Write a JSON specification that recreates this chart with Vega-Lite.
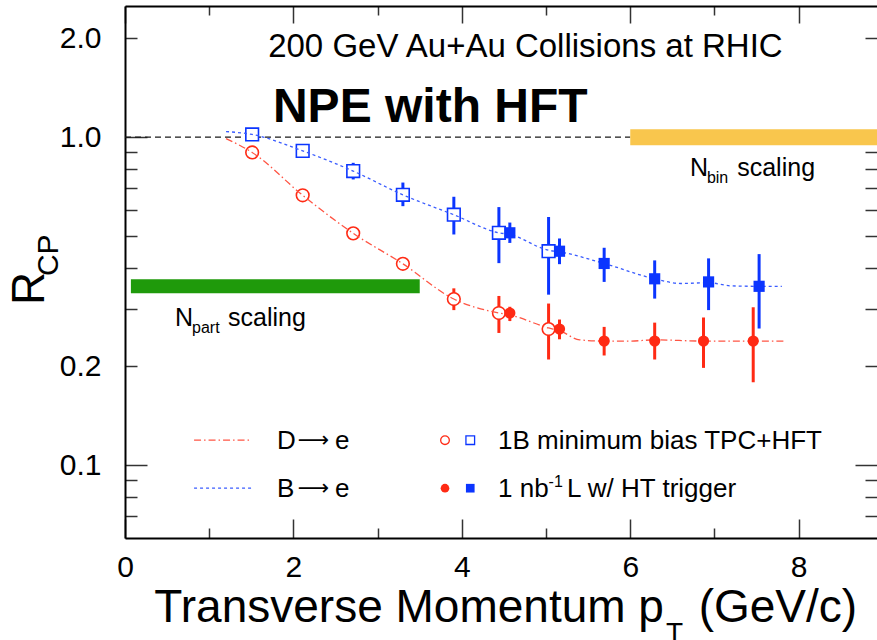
{
  "$schema": "https://vega.github.io/schema/vega-lite/v6.json",
  "width": 752,
  "height": 532,
  "autosize": {"type": "none"},
  "padding": {"left": 125, "top": 6, "right": 0, "bottom": 102},
  "background": "white",
  "config": {"view": {"stroke": null}, "font": "Liberation Sans"},
  "resolve": {"axis": {"x": "independent", "y": "independent"}},
  "datasets": {
    "points": [
      {"pt": 1.51, "v": 0.898, "lo": 0.886, "hi": 0.910, "decay": "D", "run": "MB"},
      {"pt": 2.11, "v": 0.665, "lo": 0.656, "hi": 0.674, "decay": "D", "run": "MB"},
      {"pt": 2.71, "v": 0.509, "lo": 0.501, "hi": 0.517, "decay": "D", "run": "MB"},
      {"pt": 3.30, "v": 0.411, "lo": 0.398, "hi": 0.425, "decay": "D", "run": "MB"},
      {"pt": 3.905, "v": 0.321, "lo": 0.297, "hi": 0.346, "decay": "D", "run": "MB"},
      {"pt": 4.44, "v": 0.291, "lo": 0.253, "hi": 0.328, "decay": "D", "run": "MB"},
      {"pt": 5.03, "v": 0.260, "lo": 0.210, "hi": 0.311, "decay": "D", "run": "MB"},
      {"pt": 4.57, "v": 0.291, "lo": 0.275, "hi": 0.304, "decay": "D", "run": "HT"},
      {"pt": 5.16, "v": 0.260, "lo": 0.242, "hi": 0.278, "decay": "D", "run": "HT"},
      {"pt": 5.69, "v": 0.239, "lo": 0.216, "hi": 0.264, "decay": "D", "run": "HT"},
      {"pt": 6.29, "v": 0.239, "lo": 0.210, "hi": 0.272, "decay": "D", "run": "HT"},
      {"pt": 6.87, "v": 0.239, "lo": 0.198, "hi": 0.282, "decay": "D", "run": "HT"},
      {"pt": 7.46, "v": 0.239, "lo": 0.179, "hi": 0.303, "decay": "D", "run": "HT"},
      {"pt": 1.51, "v": 1.019, "lo": 1.005, "hi": 1.033, "decay": "B", "run": "MB"},
      {"pt": 2.11, "v": 0.908, "lo": 0.875, "hi": 0.945, "decay": "B", "run": "MB"},
      {"pt": 2.71, "v": 0.788, "lo": 0.743, "hi": 0.835, "decay": "B", "run": "MB"},
      {"pt": 3.30, "v": 0.667, "lo": 0.616, "hi": 0.727, "decay": "B", "run": "MB"},
      {"pt": 3.905, "v": 0.580, "lo": 0.505, "hi": 0.658, "decay": "B", "run": "MB"},
      {"pt": 4.44, "v": 0.511, "lo": 0.413, "hi": 0.612, "decay": "B", "run": "MB"},
      {"pt": 5.03, "v": 0.449, "lo": 0.331, "hi": 0.571, "decay": "B", "run": "MB"},
      {"pt": 4.57, "v": 0.511, "lo": 0.476, "hi": 0.549, "decay": "B", "run": "HT"},
      {"pt": 5.16, "v": 0.449, "lo": 0.410, "hi": 0.491, "decay": "B", "run": "HT"},
      {"pt": 5.69, "v": 0.412, "lo": 0.362, "hi": 0.460, "decay": "B", "run": "HT"},
      {"pt": 6.29, "v": 0.370, "lo": 0.322, "hi": 0.421, "decay": "B", "run": "HT"},
      {"pt": 6.93, "v": 0.362, "lo": 0.297, "hi": 0.427, "decay": "B", "run": "HT"},
      {"pt": 7.53, "v": 0.351, "lo": 0.261, "hi": 0.440, "decay": "B", "run": "HT"}
    ],
    "curves": [
      {"pt": 1.20, "v": 0.990, "decay": "D"},
      {"pt": 1.51, "v": 0.898, "decay": "D"},
      {"pt": 2.11, "v": 0.665, "decay": "D"},
      {"pt": 2.71, "v": 0.509, "decay": "D"},
      {"pt": 3.30, "v": 0.411, "decay": "D"},
      {"pt": 3.905, "v": 0.321, "decay": "D"},
      {"pt": 4.44, "v": 0.291, "decay": "D"},
      {"pt": 4.57, "v": 0.287, "decay": "D"},
      {"pt": 5.03, "v": 0.262, "decay": "D"},
      {"pt": 5.16, "v": 0.257, "decay": "D"},
      {"pt": 5.40, "v": 0.241, "decay": "D"},
      {"pt": 5.69, "v": 0.239, "decay": "D"},
      {"pt": 6.00, "v": 0.239, "decay": "D"},
      {"pt": 6.29, "v": 0.241, "decay": "D"},
      {"pt": 6.87, "v": 0.239, "decay": "D"},
      {"pt": 7.46, "v": 0.239, "decay": "D"},
      {"pt": 7.85, "v": 0.239, "decay": "D"},
      {"pt": 1.20, "v": 1.040, "decay": "B"},
      {"pt": 1.51, "v": 1.019, "decay": "B"},
      {"pt": 2.11, "v": 0.908, "decay": "B"},
      {"pt": 2.71, "v": 0.788, "decay": "B"},
      {"pt": 3.30, "v": 0.667, "decay": "B"},
      {"pt": 3.905, "v": 0.580, "decay": "B"},
      {"pt": 4.44, "v": 0.511, "decay": "B"},
      {"pt": 4.57, "v": 0.505, "decay": "B"},
      {"pt": 5.03, "v": 0.452, "decay": "B"},
      {"pt": 5.16, "v": 0.447, "decay": "B"},
      {"pt": 5.69, "v": 0.412, "decay": "B"},
      {"pt": 6.29, "v": 0.370, "decay": "B"},
      {"pt": 6.60, "v": 0.358, "decay": "B"},
      {"pt": 6.93, "v": 0.360, "decay": "B"},
      {"pt": 7.20, "v": 0.352, "decay": "B"},
      {"pt": 7.53, "v": 0.351, "decay": "B"},
      {"pt": 7.80, "v": 0.351, "decay": "B"}
    ]
  },
  "layer": [
    {
      "data": {"values": [{}]},
      "mark": {"type": "rule", "stroke": "#1a1a1a", "strokeWidth": 1.2, "strokeDash": [6, 4]},
      "encoding": {
        "x": {"datum": 0, "type": "quantitative", "scale": {"type": "linear", "domain": [0, 8.93], "nice": false, "zero": false},
          "axis": {"orient": "bottom", "title": null, "values": [0, 1, 2, 3, 4, 5, 6, 7, 8], "format": "d",
            "labelExpr": "datum.value % 2 === 0 ? datum.label : ''",
            "tickSize": {"condition": {"test": "datum.value % 2 === 0", "value": -19}, "value": -10},
            "labelPadding": 33, "tickColor": "#333333", "tickWidth": 1.5, "domainColor": "#000000", "domainWidth": 2,
            "labelFont": "Liberation Sans", "labelFontSize": 30, "labelColor": "#000000", "labelFlush": false, "labelOverlap": false, "grid": false}},
        "x2": {"datum": 6},
        "y": {"datum": 1, "type": "quantitative", "scale": {"type": "log", "domain": [0.06, 2.51], "nice": false},
          "axis": {"orient": "left", "title": null, "values": [0.07, 0.08, 0.09, 0.1, 0.2, 0.3, 0.4, 0.5, 0.6, 0.7, 0.8, 0.9, 1, 2],
            "labelExpr": "(datum.value == 0.1 || datum.value == 0.2 || datum.value == 1 || datum.value == 2) ? format(datum.value, '.1f') : ''",
            "tickSize": {"condition": {"test": "datum.value == 0.1 || datum.value == 1", "value": -22}, "value": -12},
            "labelPadding": {"condition": {"test": "datum.value == 0.1 || datum.value == 1", "value": 46}, "value": 36},
            "tickColor": "#333333", "tickWidth": 1.5, "domainColor": "#000000", "domainWidth": 2,
            "labelFont": "Liberation Sans", "labelFontSize": 30, "labelColor": "#000000", "labelOverlap": false, "grid": false}}
      }
    },
    {
      "data": {"values": [{}]},
      "mark": {"type": "rule", "stroke": "#f9c64d", "strokeWidth": 16, "strokeCap": "butt"},
      "encoding": {
        "x": {"datum": 6, "type": "quantitative", "scale": {"type": "linear", "domain": [0, 8.93], "nice": false, "zero": false},
          "axis": {"orient": "top", "title": null, "values": [0, 1, 2, 3, 4, 5, 6, 7, 8], "labels": false,
            "tickSize": {"condition": {"test": "datum.value % 2 === 0", "value": -17}, "value": -9},
            "tickColor": "#333333", "tickWidth": 1.5, "domainColor": "#000000", "domainWidth": 2, "grid": false}},
        "x2": {"datum": 8.93},
        "y": {"datum": 1, "type": "quantitative", "scale": {"type": "log", "domain": [0.06, 2.51], "nice": false},
          "axis": {"orient": "right", "title": null, "values": [0.07, 0.08, 0.09, 0.1, 0.2, 0.3, 0.4, 0.5, 0.6, 0.7, 0.8, 0.9, 1, 2], "labels": false, "domain": false,
            "tickSize": {"condition": {"test": "datum.value == 0.1 || datum.value == 1", "value": -22}, "value": -12},
            "tickColor": "#333333", "tickWidth": 1.5, "grid": false}}
      }
    },
    {
      "data": {"values": [{}]},
      "mark": {"type": "rule", "stroke": "#1f9a0b", "strokeWidth": 14, "strokeCap": "butt"},
      "encoding": {
        "x": {"datum": 0.07, "type": "quantitative", "scale": {"type": "linear", "domain": [0, 8.93], "nice": false, "zero": false}, "axis": null},
        "x2": {"datum": 3.5},
        "y": {"datum": 0.351, "type": "quantitative", "scale": {"type": "log", "domain": [0.06, 2.51], "nice": false}, "axis": null}
      }
    },
    {
      "data": {"name": "points"},
      "mark": {"type": "rule", "strokeWidth": 3},
      "encoding": {
        "x": {"field": "pt", "type": "quantitative", "scale": {"type": "linear", "domain": [0, 8.93], "nice": false, "zero": false}, "axis": null},
        "y": {"field": "lo", "type": "quantitative", "scale": {"type": "log", "domain": [0.06, 2.51], "nice": false}, "axis": null},
        "y2": {"field": "hi"},
        "stroke": {"field": "decay", "type": "nominal", "scale": {"domain": ["D", "B"], "range": ["#ff2a14", "#0b35ff"]}, "legend": null}
      }
    },
    {
      "data": {"name": "points"},
      "transform": [{"filter": "datum.run === 'MB'"}],
      "mark": {"type": "point", "filled": true, "fill": "white", "fillOpacity": 1, "strokeWidth": 1.6, "size": 160, "opacity": 1},
      "encoding": {
        "x": {"field": "pt", "type": "quantitative", "scale": {"type": "linear", "domain": [0, 8.93], "nice": false, "zero": false}, "axis": null},
        "y": {"field": "v", "type": "quantitative", "scale": {"type": "log", "domain": [0.06, 2.51], "nice": false}, "axis": null},
        "stroke": {"field": "decay", "type": "nominal", "scale": {"domain": ["D", "B"], "range": ["#ff2a14", "#0b35ff"]}, "legend": null},
        "shape": {"field": "decay", "type": "nominal", "scale": {"domain": ["D", "B"], "range": ["circle", "square"]}, "legend": null}
      }
    },
    {
      "data": {"name": "curves"},
      "transform": [{"filter": "datum.decay === 'D'"}],
      "mark": {"type": "line", "interpolate": "monotone", "stroke": "#ff5544", "strokeWidth": 1.3, "strokeDash": [7, 3, 1.5, 3]},
      "encoding": {
        "x": {"field": "pt", "type": "quantitative", "scale": {"type": "linear", "domain": [0, 8.93], "nice": false, "zero": false}, "axis": null},
        "y": {"field": "v", "type": "quantitative", "scale": {"type": "log", "domain": [0.06, 2.51], "nice": false}, "axis": null}
      }
    },
    {
      "data": {"name": "curves"},
      "transform": [{"filter": "datum.decay === 'B'"}],
      "mark": {"type": "line", "interpolate": "monotone", "stroke": "#3a5cff", "strokeWidth": 1.3, "strokeDash": [3, 3]},
      "encoding": {
        "x": {"field": "pt", "type": "quantitative", "scale": {"type": "linear", "domain": [0, 8.93], "nice": false, "zero": false}, "axis": null},
        "y": {"field": "v", "type": "quantitative", "scale": {"type": "log", "domain": [0.06, 2.51], "nice": false}, "axis": null}
      }
    },
    {
      "data": {"name": "points"},
      "transform": [{"filter": "datum.run === 'HT'"}],
      "mark": {"type": "point", "filled": true, "size": 125, "opacity": 1},
      "encoding": {
        "x": {"field": "pt", "type": "quantitative", "scale": {"type": "linear", "domain": [0, 8.93], "nice": false, "zero": false}, "axis": null},
        "y": {"field": "v", "type": "quantitative", "scale": {"type": "log", "domain": [0.06, 2.51], "nice": false}, "axis": null},
        "fill": {"field": "decay", "type": "nominal", "scale": {"domain": ["D", "B"], "range": ["#ff2a14", "#0b35ff"]}, "legend": null},
        "shape": {"field": "decay", "type": "nominal", "scale": {"domain": ["D", "B"], "range": ["circle", "square"]}, "legend": null}
      }
    },
    {
      "data": {"values": [{}]},
      "mark": {"type": "text", "text": "200 GeV Au+Au Collisions at RHIC", "align": "left", "baseline": "alphabetic", "fontSize": 33, "font": "Liberation Sans", "fill": "#000000"},
      "encoding": {
        "x": {"datum": 1.70, "type": "quantitative", "scale": {"type": "linear", "domain": [0, 8.93], "nice": false, "zero": false}, "axis": null},
        "y": {"datum": 1.753, "type": "quantitative", "scale": {"type": "log", "domain": [0.06, 2.51], "nice": false}, "axis": null}
      }
    },
    {
      "data": {"values": [{}]},
      "mark": {"type": "text", "text": "NPE with HFT", "align": "left", "baseline": "alphabetic", "fontSize": 48, "fontWeight": "bold", "font": "Liberation Sans", "fill": "#000000"},
      "encoding": {
        "x": {"datum": 1.757, "type": "quantitative", "scale": {"type": "linear", "domain": [0, 8.93], "nice": false, "zero": false}, "axis": null},
        "y": {"datum": 1.111, "type": "quantitative", "scale": {"type": "log", "domain": [0.06, 2.51], "nice": false}, "axis": null}
      }
    },
    {
      "data": {"values": [{}]},
      "mark": {"type": "text", "text": "N", "align": "left", "baseline": "alphabetic", "fontSize": 25, "font": "Liberation Sans", "fill": "#000000"},
      "encoding": {
        "x": {"datum": 6.71, "type": "quantitative", "scale": {"type": "linear", "domain": [0, 8.93], "nice": false, "zero": false}, "axis": null},
        "y": {"datum": 0.760, "type": "quantitative", "scale": {"type": "log", "domain": [0.06, 2.51], "nice": false}, "axis": null}
      }
    },
    {
      "data": {"values": [{}]},
      "mark": {"type": "text", "text": "bin", "align": "left", "baseline": "alphabetic", "fontSize": 16, "font": "Liberation Sans", "fill": "#000000"},
      "encoding": {
        "x": {"datum": 6.91, "type": "quantitative", "scale": {"type": "linear", "domain": [0, 8.93], "nice": false, "zero": false}, "axis": null},
        "y": {"datum": 0.724, "type": "quantitative", "scale": {"type": "log", "domain": [0.06, 2.51], "nice": false}, "axis": null}
      }
    },
    {
      "data": {"values": [{}]},
      "mark": {"type": "text", "text": "scaling", "align": "left", "baseline": "alphabetic", "fontSize": 25, "font": "Liberation Sans", "fill": "#000000"},
      "encoding": {
        "x": {"datum": 7.27, "type": "quantitative", "scale": {"type": "linear", "domain": [0, 8.93], "nice": false, "zero": false}, "axis": null},
        "y": {"datum": 0.760, "type": "quantitative", "scale": {"type": "log", "domain": [0.06, 2.51], "nice": false}, "axis": null}
      }
    },
    {
      "data": {"values": [{}]},
      "mark": {"type": "text", "text": "N", "align": "left", "baseline": "alphabetic", "fontSize": 25, "font": "Liberation Sans", "fill": "#000000"},
      "encoding": {
        "x": {"datum": 0.594, "type": "quantitative", "scale": {"type": "linear", "domain": [0, 8.93], "nice": false, "zero": false}, "axis": null},
        "y": {"datum": 0.2653, "type": "quantitative", "scale": {"type": "log", "domain": [0.06, 2.51], "nice": false}, "axis": null}
      }
    },
    {
      "data": {"values": [{}]},
      "mark": {"type": "text", "text": "part", "align": "left", "baseline": "alphabetic", "fontSize": 16, "font": "Liberation Sans", "fill": "#000000"},
      "encoding": {
        "x": {"datum": 0.796, "type": "quantitative", "scale": {"type": "linear", "domain": [0, 8.93], "nice": false, "zero": false}, "axis": null},
        "y": {"datum": 0.2526, "type": "quantitative", "scale": {"type": "log", "domain": [0.06, 2.51], "nice": false}, "axis": null}
      }
    },
    {
      "data": {"values": [{}]},
      "mark": {"type": "text", "text": "scaling", "align": "left", "baseline": "alphabetic", "fontSize": 25, "font": "Liberation Sans", "fill": "#000000"},
      "encoding": {
        "x": {"datum": 1.223, "type": "quantitative", "scale": {"type": "linear", "domain": [0, 8.93], "nice": false, "zero": false}, "axis": null},
        "y": {"datum": 0.2653, "type": "quantitative", "scale": {"type": "log", "domain": [0.06, 2.51], "nice": false}, "axis": null}
      }
    },
    {
      "data": {"values": [{}]},
      "mark": {"type": "rule", "stroke": "#ff5544", "strokeWidth": 1.2, "strokeDash": [7, 3, 1.5, 3]},
      "encoding": {
        "x": {"datum": 0.82, "type": "quantitative", "scale": {"type": "linear", "domain": [0, 8.93], "nice": false, "zero": false}, "axis": null},
        "x2": {"datum": 1.50},
        "y": {"datum": 0.1192, "type": "quantitative", "scale": {"type": "log", "domain": [0.06, 2.51], "nice": false}, "axis": null}
      }
    },
    {
      "data": {"values": [{}]},
      "mark": {"type": "rule", "stroke": "#3a5cff", "strokeWidth": 1.2, "strokeDash": [3, 3]},
      "encoding": {
        "x": {"datum": 0.82, "type": "quantitative", "scale": {"type": "linear", "domain": [0, 8.93], "nice": false, "zero": false}, "axis": null},
        "x2": {"datum": 1.50},
        "y": {"datum": 0.0851, "type": "quantitative", "scale": {"type": "log", "domain": [0.06, 2.51], "nice": false}, "axis": null}
      }
    },
    {
      "data": {"values": [{}]},
      "mark": {"type": "text", "text": "D", "align": "left", "baseline": "alphabetic", "fontSize": 26, "font": "Liberation Sans", "fill": "#000000"},
      "encoding": {
        "x": {"datum": 1.805, "type": "quantitative", "scale": {"type": "linear", "domain": [0, 8.93], "nice": false, "zero": false}, "axis": null},
        "y": {"datum": 0.1119, "type": "quantitative", "scale": {"type": "log", "domain": [0.06, 2.51], "nice": false}, "axis": null}
      }
    },
    {
      "data": {"values": [{}]},
      "mark": {"type": "text", "text": "⟶", "align": "center", "baseline": "alphabetic", "fontSize": 22, "font": "DejaVu Sans", "fill": "#000000"},
      "encoding": {
        "x": {"datum": 2.24, "type": "quantitative", "scale": {"type": "linear", "domain": [0, 8.93], "nice": false, "zero": false}, "axis": null},
        "y": {"datum": 0.1135, "type": "quantitative", "scale": {"type": "log", "domain": [0.06, 2.51], "nice": false}, "axis": null}
      }
    },
    {
      "data": {"values": [{}]},
      "mark": {"type": "text", "text": "e", "align": "left", "baseline": "alphabetic", "fontSize": 26, "font": "Liberation Sans", "fill": "#000000"},
      "encoding": {
        "x": {"datum": 2.494, "type": "quantitative", "scale": {"type": "linear", "domain": [0, 8.93], "nice": false, "zero": false}, "axis": null},
        "y": {"datum": 0.1119, "type": "quantitative", "scale": {"type": "log", "domain": [0.06, 2.51], "nice": false}, "axis": null}
      }
    },
    {
      "data": {"values": [{}]},
      "mark": {"type": "text", "text": "B", "align": "left", "baseline": "alphabetic", "fontSize": 26, "font": "Liberation Sans", "fill": "#000000"},
      "encoding": {
        "x": {"datum": 1.805, "type": "quantitative", "scale": {"type": "linear", "domain": [0, 8.93], "nice": false, "zero": false}, "axis": null},
        "y": {"datum": 0.0799, "type": "quantitative", "scale": {"type": "log", "domain": [0.06, 2.51], "nice": false}, "axis": null}
      }
    },
    {
      "data": {"values": [{}]},
      "mark": {"type": "text", "text": "⟶", "align": "center", "baseline": "alphabetic", "fontSize": 22, "font": "DejaVu Sans", "fill": "#000000"},
      "encoding": {
        "x": {"datum": 2.24, "type": "quantitative", "scale": {"type": "linear", "domain": [0, 8.93], "nice": false, "zero": false}, "axis": null},
        "y": {"datum": 0.0811, "type": "quantitative", "scale": {"type": "log", "domain": [0.06, 2.51], "nice": false}, "axis": null}
      }
    },
    {
      "data": {"values": [{}]},
      "mark": {"type": "text", "text": "e", "align": "left", "baseline": "alphabetic", "fontSize": 26, "font": "Liberation Sans", "fill": "#000000"},
      "encoding": {
        "x": {"datum": 2.494, "type": "quantitative", "scale": {"type": "linear", "domain": [0, 8.93], "nice": false, "zero": false}, "axis": null},
        "y": {"datum": 0.0799, "type": "quantitative", "scale": {"type": "log", "domain": [0.06, 2.51], "nice": false}, "axis": null}
      }
    },
    {
      "data": {"values": [{}]},
      "mark": {"type": "point", "shape": "circle", "filled": false, "stroke": "#ff2a14", "strokeWidth": 1.3, "size": 75, "opacity": 1},
      "encoding": {
        "x": {"datum": 3.80, "type": "quantitative", "scale": {"type": "linear", "domain": [0, 8.93], "nice": false, "zero": false}, "axis": null},
        "y": {"datum": 0.1192, "type": "quantitative", "scale": {"type": "log", "domain": [0.06, 2.51], "nice": false}, "axis": null}
      }
    },
    {
      "data": {"values": [{}]},
      "mark": {"type": "point", "shape": "square", "filled": false, "stroke": "#0b35ff", "strokeWidth": 1.3, "size": 75, "opacity": 1},
      "encoding": {
        "x": {"datum": 4.10, "type": "quantitative", "scale": {"type": "linear", "domain": [0, 8.93], "nice": false, "zero": false}, "axis": null},
        "y": {"datum": 0.1192, "type": "quantitative", "scale": {"type": "log", "domain": [0.06, 2.51], "nice": false}, "axis": null}
      }
    },
    {
      "data": {"values": [{}]},
      "mark": {"type": "point", "shape": "circle", "filled": true, "fill": "#ff2a14", "size": 75, "opacity": 1},
      "encoding": {
        "x": {"datum": 3.80, "type": "quantitative", "scale": {"type": "linear", "domain": [0, 8.93], "nice": false, "zero": false}, "axis": null},
        "y": {"datum": 0.0851, "type": "quantitative", "scale": {"type": "log", "domain": [0.06, 2.51], "nice": false}, "axis": null}
      }
    },
    {
      "data": {"values": [{}]},
      "mark": {"type": "point", "shape": "square", "filled": true, "fill": "#0b35ff", "size": 75, "opacity": 1},
      "encoding": {
        "x": {"datum": 4.10, "type": "quantitative", "scale": {"type": "linear", "domain": [0, 8.93], "nice": false, "zero": false}, "axis": null},
        "y": {"datum": 0.0851, "type": "quantitative", "scale": {"type": "log", "domain": [0.06, 2.51], "nice": false}, "axis": null}
      }
    },
    {
      "data": {"values": [{}]},
      "mark": {"type": "text", "text": "1B minimum bias TPC+HFT", "align": "left", "baseline": "alphabetic", "fontSize": 26, "font": "Liberation Sans", "fill": "#000000"},
      "encoding": {
        "x": {"datum": 4.43, "type": "quantitative", "scale": {"type": "linear", "domain": [0, 8.93], "nice": false, "zero": false}, "axis": null},
        "y": {"datum": 0.1119, "type": "quantitative", "scale": {"type": "log", "domain": [0.06, 2.51], "nice": false}, "axis": null}
      }
    },
    {
      "data": {"values": [{}]},
      "mark": {"type": "text", "text": "1 nb", "align": "left", "baseline": "alphabetic", "fontSize": 26, "font": "Liberation Sans", "fill": "#000000"},
      "encoding": {
        "x": {"datum": 4.43, "type": "quantitative", "scale": {"type": "linear", "domain": [0, 8.93], "nice": false, "zero": false}, "axis": null},
        "y": {"datum": 0.0799, "type": "quantitative", "scale": {"type": "log", "domain": [0.06, 2.51], "nice": false}, "axis": null}
      }
    },
    {
      "data": {"values": [{}]},
      "mark": {"type": "text", "text": "-1", "align": "left", "baseline": "alphabetic", "fontSize": 16, "font": "Liberation Sans", "fill": "#000000"},
      "encoding": {
        "x": {"datum": 5.03, "type": "quantitative", "scale": {"type": "linear", "domain": [0, 8.93], "nice": false, "zero": false}, "axis": null},
        "y": {"datum": 0.0860, "type": "quantitative", "scale": {"type": "log", "domain": [0.06, 2.51], "nice": false}, "axis": null}
      }
    },
    {
      "data": {"values": [{}]},
      "mark": {"type": "text", "text": "L w/ HT trigger", "align": "left", "baseline": "alphabetic", "fontSize": 26, "font": "Liberation Sans", "fill": "#000000"},
      "encoding": {
        "x": {"datum": 5.25, "type": "quantitative", "scale": {"type": "linear", "domain": [0, 8.93], "nice": false, "zero": false}, "axis": null},
        "y": {"datum": 0.0799, "type": "quantitative", "scale": {"type": "log", "domain": [0.06, 2.51], "nice": false}, "axis": null}
      }
    },
    {
      "data": {"values": [{}]},
      "mark": {"type": "text", "text": "R", "angle": 270, "align": "left", "baseline": "alphabetic", "fontSize": 46, "font": "Liberation Sans", "fill": "#000000"},
      "encoding": {
        "x": {"datum": -0.962, "type": "quantitative", "scale": {"type": "linear", "domain": [0, 8.93], "nice": false, "zero": false}, "axis": null},
        "y": {"datum": 0.3076, "type": "quantitative", "scale": {"type": "log", "domain": [0.06, 2.51], "nice": false}, "axis": null}
      }
    },
    {
      "data": {"values": [{}]},
      "mark": {"type": "text", "text": "CP", "angle": 270, "align": "left", "baseline": "alphabetic", "fontSize": 30, "font": "Liberation Sans", "fill": "#000000"},
      "encoding": {
        "x": {"datum": -0.796, "type": "quantitative", "scale": {"type": "linear", "domain": [0, 8.93], "nice": false, "zero": false}, "axis": null},
        "y": {"datum": 0.377, "type": "quantitative", "scale": {"type": "log", "domain": [0.06, 2.51], "nice": false}, "axis": null}
      }
    },
    {
      "data": {"values": [{}]},
      "mark": {"type": "text", "text": "Transverse Momentum p", "align": "right", "baseline": "alphabetic", "fontSize": 46, "font": "Liberation Sans", "fill": "#000000"},
      "encoding": {
        "x": {"datum": 6.40, "type": "quantitative", "scale": {"type": "linear", "domain": [0, 8.93], "nice": false, "zero": false}, "axis": null},
        "y": {"datum": 0.0332, "type": "quantitative", "scale": {"type": "log", "domain": [0.06, 2.51], "nice": false}, "axis": null}
      }
    },
    {
      "data": {"values": [{}]},
      "mark": {"type": "text", "text": "T", "align": "left", "baseline": "alphabetic", "fontSize": 28, "font": "Liberation Sans", "fill": "#000000"},
      "encoding": {
        "x": {"datum": 6.425, "type": "quantitative", "scale": {"type": "linear", "domain": [0, 8.93], "nice": false, "zero": false}, "axis": null},
        "y": {"datum": 0.0290, "type": "quantitative", "scale": {"type": "log", "domain": [0.06, 2.51], "nice": false}, "axis": null}
      }
    },
    {
      "data": {"values": [{}]},
      "mark": {"type": "text", "text": "(GeV/c)", "align": "right", "baseline": "alphabetic", "fontSize": 46, "font": "Liberation Sans", "fill": "#000000"},
      "encoding": {
        "x": {"datum": 8.694, "type": "quantitative", "scale": {"type": "linear", "domain": [0, 8.93], "nice": false, "zero": false}, "axis": null},
        "y": {"datum": 0.0332, "type": "quantitative", "scale": {"type": "log", "domain": [0.06, 2.51], "nice": false}, "axis": null}
      }
    }
  ]
}
